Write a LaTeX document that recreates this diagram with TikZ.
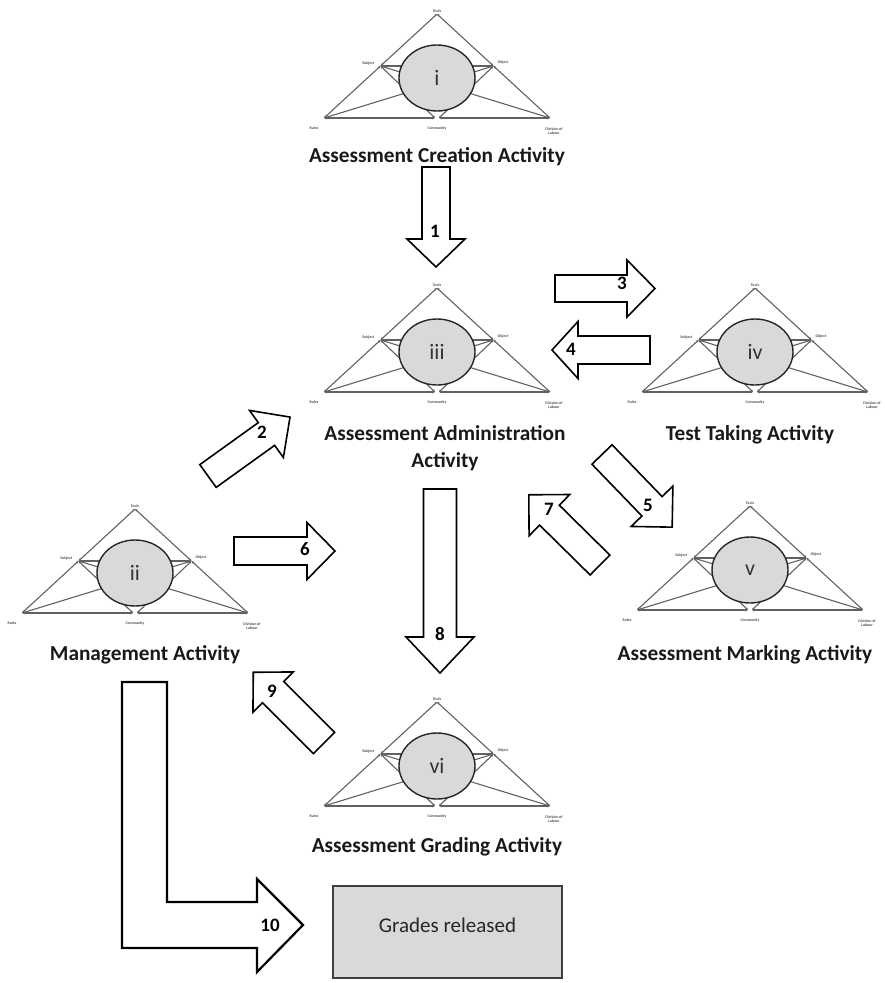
\documentclass[tikz,border=0pt]{standalone}
\usepackage{fontspec}
\setmainfont{Carlito}
\usetikzlibrary{arrows.meta,shapes.geometric}

% block arrow: tail point, angle, length, shaft half width, head half width, head length
\newcommand\blkarrow[6]{%
  \begin{scope}[shift={#1},rotate=#2]
    \draw[blk] (0,-#4) -- ({#3-#6},-#4) -- ({#3-#6},-#5) -- (#3,0)
      -- ({#3-#6},#5) -- ({#3-#6},#4) -- (0,#4) -- cycle;
  \end{scope}}

\tikzset{
  tri/.style={draw=black!62, line width=1.1pt,
    {Stealth[length=2.8pt,width=2.6pt]}-{Stealth[length=2.8pt,width=2.6pt]}},
  tinylbl/.style={font=\fontsize{3.9}{4.3}\selectfont\bfseries, text=black!70,
    inner sep=0.5pt, align=center},
  actlbl/.style={font=\fontsize{21.3}{27}\selectfont\bfseries, text=black!90,
    align=center, inner sep=0pt},
  numlbl/.style={font=\fontsize{19}{22}\selectfont\bfseries, inner sep=0pt},
  blk/.style={draw=black, line width=1.6pt, fill=white, line join=miter},
  pics/activity/.style={code={
    \coordinate (-T) at (0,0);
    \coordinate (-S) at (-56.5,52);
    \coordinate (-O) at (56.5,52);
    \coordinate (-R) at (-113,104);
    \coordinate (-C) at (0,104);
    \coordinate (-D) at (113,104);
    \draw[tri] (-T) -- (-S);
    \draw[tri] (-S) -- (-R);
    \draw[tri] (-T) -- (-O);
    \draw[tri] (-O) -- (-D);
    \draw[tri] (-R) -- ([xshift=-2pt]-C);
    \draw[tri] ([xshift=2pt]-C) -- (-D);
    \draw[tri] (-S) -- (-O);
    \draw[tri] (-S) -- ([xshift=-2pt]-C);
    \draw[tri] (-O) -- ([xshift=2pt]-C);
    \draw[tri] (-R) -- (-O);
    \draw[tri] (-D) -- (-S);
    \node[draw=black!85, line width=1.4pt, fill=black!15, ellipse,
      minimum width=76pt, minimum height=66pt, inner sep=0pt,
      font=\fontsize{22}{24}\selectfont, text=black!80] (-E) at (0,64) {#1};
    \node[tinylbl, anchor=south] (-lT) at (0,-1) {Tools};
    \node[tinylbl, anchor=east] (-lS) at (-62,49) {Subject};
    \node[tinylbl, anchor=west] (-lO) at (60,48) {Object};
    \node[tinylbl] (-lR) at (-123,114) {Rules};
    \node[tinylbl] (-lC) at (0,114) {Community};
    \node[tinylbl] (-lD) at (117,117) {Division of\\Labour};
  }}
}

\begin{document}
\begin{tikzpicture}[x=1pt,y=-1pt]
  \useasboundingbox (0,0) rectangle (885,983);

  % activity systems
  \pic (acti)   at (437,14)  {activity=i};
  \pic (actii)  at (135,509) {activity=ii};
  \pic (actiii) at (437,288) {activity=iii};
  \pic (activ)  at (755,288) {activity=iv};
  \pic (actv)   at (750,506) {activity=v};
  \pic (actvi)  at (437,702) {activity=vi};

  % activity titles
  \node[actlbl] (tCreation) at (437,157) {Assessment Creation Activity};
  \node[actlbl] (tAdmin)    at (445,448) {Assessment Administration\\Activity};
  \node[actlbl] (tTest)     at (750,435) {Test Taking Activity};
  \node[actlbl] (tMgmt)     at (145,655) {Management Activity};
  \node[actlbl] (tMark)     at (745,655) {Assessment Marking Activity};
  \node[actlbl] (tGrade)    at (437,847) {Assessment Grading Activity};

  % block arrows between the activities
  \blkarrow{(436,167)}{-90}{100}{14}{29}{28}
  \blkarrow{(208,476)}{35.7}{101}{14}{29}{29}
  \blkarrow{(555,288.5)}{0}{100}{13.5}{28.5}{28}
  \blkarrow{(650,350)}{180}{98}{14}{28.5}{26}
  \blkarrow{(602,454.5)}{-46}{101}{14}{29}{29}
  \blkarrow{(234,551)}{0}{101}{14}{28.5}{28}
  \blkarrow{(600,565)}{135.4}{100}{14}{29}{29}
  \blkarrow{(440,489)}{-90}{184}{16.5}{34}{36}
  \blkarrow{(324,743)}{135}{100}{15}{28.5}{28}

  % L-shaped arrow towards the release of grades
  \draw[blk, line width=2.2pt] (122,682) -- (167,682) -- (167,902) -- (257,902)
    -- (257,879) -- (303,925) -- (257,972) -- (257,948) -- (122,948) -- cycle;

  % grades released
  \node[draw=black!75, line width=1.5pt, fill=black!15, minimum width=229pt,
    minimum height=92pt, text height=14pt, text depth=14pt,
    font=\fontsize{21}{24}\selectfont, text=black!85] (grades) at (447.5,932)
    {Grades released};

  % arrow numbers
  \node[numlbl] (n1)  at (435,231) {1};
  \node[numlbl] (n2)  at (262,432) {2};
  \node[numlbl] (n3)  at (622,283) {3};
  \node[numlbl] (n4)  at (571,349) {4};
  \node[numlbl] (n5)  at (648,505) {5};
  \node[numlbl] (n6)  at (305,549) {6};
  \node[numlbl] (n7)  at (549,509) {7};
  \node[numlbl] (n8)  at (440,634) {8};
  \node[numlbl] (n9)  at (272,691) {9};
  \node[numlbl] (n10) at (270,925) {10};
\end{tikzpicture}
\end{document}
